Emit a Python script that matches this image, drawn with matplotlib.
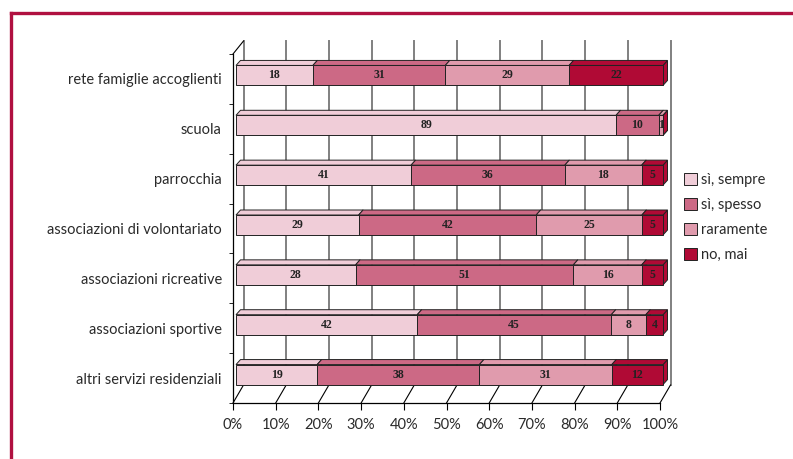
import matplotlib.pyplot as plt
from matplotlib.patches import Polygon
from matplotlib.lines import Line2D

categories = ['rete famiglie accoglienti', 'scuola', 'parrocchia',
              'associazioni di volontariato', 'associazioni ricreative',
              'associazioni sportive', 'altri servizi residenziali']
series_names = ['sì, sempre', 'sì, spesso', 'raramente', 'no, mai']
si_sempre = [18, 89, 41, 29, 28, 42, 19]
si_spesso = [31, 10, 36, 42, 51, 45, 38]
raramente = [29, 1, 18, 25, 16, 8, 31]
no_mai = [22, 0, 5, 5, 5, 4, 12]
colors = ['#f0cdd8', '#cc6985', '#e09bad', '#b00a35']
x_ticks = [0, 10, 20, 30, 40, 50, 60, 70, 80, 90, 100]
x_tick_labels = ['0%', '10%', '20%', '30%', '40%', '50%', '60%', '70%', '80%', '90%', '100%']

plt.rcParams['font.family'] = ['Lato', 'DejaVu Sans']

W, H = 793, 459
fig = plt.figure(figsize=(W / 100, H / 100), dpi=100)
ax = fig.add_axes([233 / W, 1 - 403 / H, (660 - 233) / W, (403 - 54) / H])
n = len(categories)
ax.set_xlim(0, 100)
ax.set_ylim(-0.5, n - 0.5)

# data units per pixel
px = 100 / (660 - 233)
py = n / (403 - 54)

# back wall grid + floor diagonals
for t in x_ticks:
    ax.plot([t + 10.5 * px, t + 10.5 * px], [-0.5 + 18 * py, n - 0.5 + 13 * py],
            color='#808080', lw=1.4, clip_on=False, zorder=1)
    ax.plot([t, t + 10.5 * px], [-0.5, -0.5 + 18 * py], color='black', lw=0.8,
            clip_on=False, zorder=1)
ax.plot([0, 10.5 * px], [n - 0.5, n - 0.5 + 13 * py], color='black', lw=0.8,
        clip_on=False, zorder=1)

# stacked 3D-looking bars
series = [si_sempre, si_spesso, raramente, no_mai]
dx, dy = 4.5 * px, 5 * py
bh = 20 * py
handles = []
for i, cat in enumerate(categories):
    y = n - 1 - i + 3.5 * py
    total = sum(s[i] for s in series)
    left = 3 * px
    for j, s in enumerate(series):
        w = s[i] / total * 100
        yb, yt = y - bh / 2, y + bh / 2
        bar = ax.barh(y, w, left=left, height=bh, color=colors[j], edgecolor='#222222',
                      lw=0.7, zorder=3, clip_on=False)
        if i == 0:
            handles.append(bar)
        top = Polygon([(left, yt), (left + w, yt), (left + w + dx, yt + dy), (left + dx, yt + dy)],
                      closed=True, facecolor=colors[j], edgecolor='#222222', lw=0.7,
                      zorder=2.9, clip_on=False)
        side = Polygon([(left + w, yb), (left + w, yt), (left + w + dx, yt + dy), (left + w + dx, yb + dy)],
                       closed=True, facecolor=colors[j], edgecolor='#222222', lw=0.7,
                       zorder=2.8, clip_on=False)
        ax.add_patch(top)
        ax.add_patch(side)
        if s[i] > 0:
            ax.text(left + w / 2, y, str(s[i]), ha='center', va='center', fontsize=8.5,
                    fontweight='bold', family='Liberation Serif', color='#222222', zorder=4)
        left += w

for side_name in ['top', 'right']:
    ax.spines[side_name].set_visible(False)
for side_name in ['left', 'bottom']:
    ax.spines[side_name].set_linewidth(0.9)
ax.set_facecolor('none')

ax.set_yticks(range(n), categories[::-1])
ax.set_yticks([k - 0.5 for k in range(n + 1)], minor=True)
ax.tick_params(axis='y', which='major', length=0, pad=8, labelsize=10.5, labelcolor='#2a2a2a')
ax.tick_params(axis='y', which='minor', length=3)
ax.set_xticks(x_ticks, x_tick_labels)
ax.tick_params(axis='x', length=5, pad=6, labelsize=10.5, labelcolor='#2a2a2a')

fig.legend(handles, series_names, loc='upper left', bbox_to_anchor=(678 / W, 1 - 167 / H),
           frameon=False, handlelength=0.9, handleheight=0.9, handletextpad=0.3,
           labelspacing=0.75, fontsize=10.5, labelcolor='#2a2a2a', borderaxespad=0)

# page frame
fig.add_artist(Line2D([11 / W, 11 / W], [0, 1 - 13 / H], transform=fig.transFigure,
                      color='#b01040', lw=2.4))
fig.add_artist(Line2D([11 / W, 1], [1 - 13 / H, 1 - 13 / H], transform=fig.transFigure,
                      color='#b01040', lw=2.4))

plt.savefig('out.png', dpi=100)
plt.close()
